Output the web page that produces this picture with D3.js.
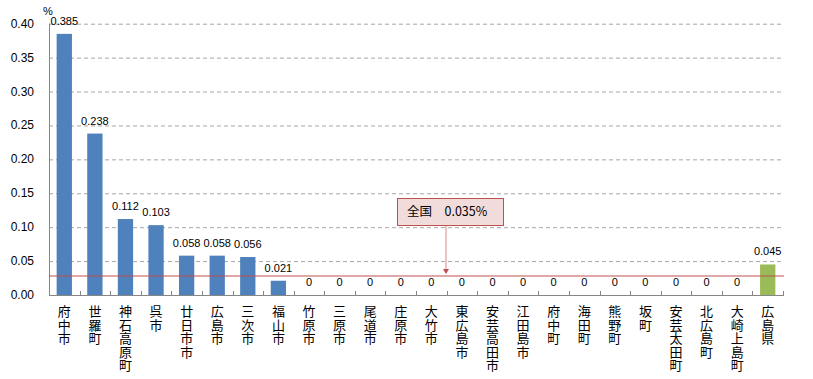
<!DOCTYPE html>
<html>
<head>
<meta charset="utf-8">
<script src="https://cdn.jsdelivr.net/npm/d3@7"></script>
<style>
  body { margin: 0; background: #fff; }
  svg text { font-family: "Liberation Sans", Arial, sans-serif; fill: #000; }
  .cat text { font-family: "Noto Sans CJK JP", sans-serif; writing-mode: vertical-rl; }
</style>
</head>
<body>
<svg id="chart" width="813" height="379"></svg>
<script>
// Categories (municipalities) and values in %
const categories = ['府中市', '世羅町', '神石高原町', '呉市', '廿日市市', '広島市', '三次市', '福山市',
  '竹原市', '三原市', '尾道市', '庄原市', '大竹市', '東広島市', '安芸高田市', '江田島市',
  '府中町', '海田町', '熊野町', '坂町', '安芸太田町', '北広島町', '大崎上島町', '広島県'];
const values = [0.385, 0.238, 0.112, 0.103, 0.058, 0.058, 0.056, 0.021,
  0, 0, 0, 0, 0, 0, 0, 0, 0, 0, 0, 0, 0, 0, 0, 0.045];
const yTicks = [0, 0.05, 0.10, 0.15, 0.20, 0.25, 0.30, 0.35, 0.40];
// national reference line (drawn where it sits in the picture)
const nationalLine = 0.028;
const nationalLabel = '全国　0.035%';

const svg = d3.select('#chart');
const plotLeft = 49, plotRight = 783, plotTop = 23.7, plotBottom = 295;

const x = d3.scaleBand().domain(categories).range([plotLeft, plotRight]).paddingInner(0.5).paddingOuter(0.25);
const y = d3.scaleLinear().domain([0, 0.4]).range([plotBottom, plotTop]);

// Gridlines
svg.append('g')
  .selectAll('line')
  .data(yTicks.filter(d => d > 0))
  .enter()
  .append('line')
  .attr('x1', plotLeft).attr('x2', plotRight)
  .attr('y1', d => y(d) + 0.5).attr('y2', d => y(d) + 0.5)
  .attr('stroke', '#a6a6a6')
  .attr('stroke-dasharray', '4,3');

// Y tick labels
svg.append('g')
  .selectAll('text')
  .data(yTicks)
  .enter()
  .append('text')
  .attr('x', 34)
  .attr('y', d => y(d) + 4)
  .attr('text-anchor', 'end')
  .attr('font-size', 12)
  .text(d => d.toFixed(2));

svg.append('text')
  .attr('x', 43).attr('y', 15)
  .attr('font-size', 11)
  .text('%');

// Bars
svg.append('g')
  .selectAll('rect')
  .data(values)
  .enter()
  .append('rect')
  .attr('x', (d, i) => x(categories[i]))
  .attr('width', x.bandwidth())
  .attr('y', d => y(d))
  .attr('height', d => y(0) - y(d))
  .attr('fill', (d, i) => i === categories.length - 1 ? '#9bbb59' : '#4f81bd');

// Value labels
svg.append('g')
  .selectAll('text')
  .data(values)
  .enter()
  .append('text')
  .attr('x', (d, i) => x(categories[i]) + x.bandwidth() / 2)
  .attr('y', d => y(d) - 9)
  .attr('text-anchor', 'middle')
  .attr('font-size', 11)
  .text(d => d === 0 ? '0' : d.toFixed(3));

// Axes lines
const step = (plotRight - plotLeft) / categories.length;
svg.append('line')
  .attr('x1', plotLeft + 0.5).attr('x2', plotLeft + 0.5)
  .attr('y1', plotTop).attr('y2', plotBottom)
  .attr('stroke', '#868686');
svg.append('line')
  .attr('x1', plotLeft).attr('x2', plotRight + 1)
  .attr('y1', plotBottom + 0.5).attr('y2', plotBottom + 0.5)
  .attr('stroke', '#868686');
svg.append('g')
  .selectAll('line')
  .data(d3.range(1, categories.length + 1))
  .enter()
  .append('line')
  .attr('x1', i => Math.round(plotLeft + i * step) + 0.5)
  .attr('x2', i => Math.round(plotLeft + i * step) + 0.5)
  .attr('y1', plotBottom - 4).attr('y2', plotBottom)
  .attr('stroke', '#868686');

// National reference line
svg.append('line')
  .attr('x1', plotLeft).attr('x2', plotRight + 1)
  .attr('y1', y(nationalLine)).attr('y2', y(nationalLine))
  .attr('stroke', '#c0504d')
  .attr('stroke-width', 1.2);

// Callout
const boxX = 397, boxY = 198, boxW = 106, boxH = 27;
const arrowX = 446;
svg.append('line')
  .attr('x1', arrowX).attr('x2', arrowX)
  .attr('y1', boxY + boxH).attr('y2', y(nationalLine) - 6)
  .attr('stroke', '#d38a88');
svg.append('path')
  .attr('d', `M${arrowX - 3},${y(nationalLine) - 7} L${arrowX + 3},${y(nationalLine) - 7} L${arrowX},${y(nationalLine) - 2} Z`)
  .attr('fill', '#c0504d');
svg.append('rect')
  .attr('x', boxX + 0.5).attr('y', boxY + 0.5)
  .attr('width', boxW).attr('height', boxH)
  .attr('fill', '#f2dcdb')
  .attr('stroke', '#c0504d');
svg.append('text')
  .attr('x', boxX + 10).attr('y', boxY + 18)
  .attr('font-size', 12.5)
  .style('font-family', '"Noto Sans CJK JP", sans-serif')
  .text(nationalLabel);

// Category labels, written vertically
svg.append('g')
  .attr('class', 'cat')
  .selectAll('text')
  .data(categories)
  .enter()
  .append('text')
  .attr('x', d => x(d) + x.bandwidth() / 2)
  .attr('y', 305)
  .attr('font-size', 13)
  .style('letter-spacing', '0.5px')
  .text(d => d);
</script>
</body>
</html>
